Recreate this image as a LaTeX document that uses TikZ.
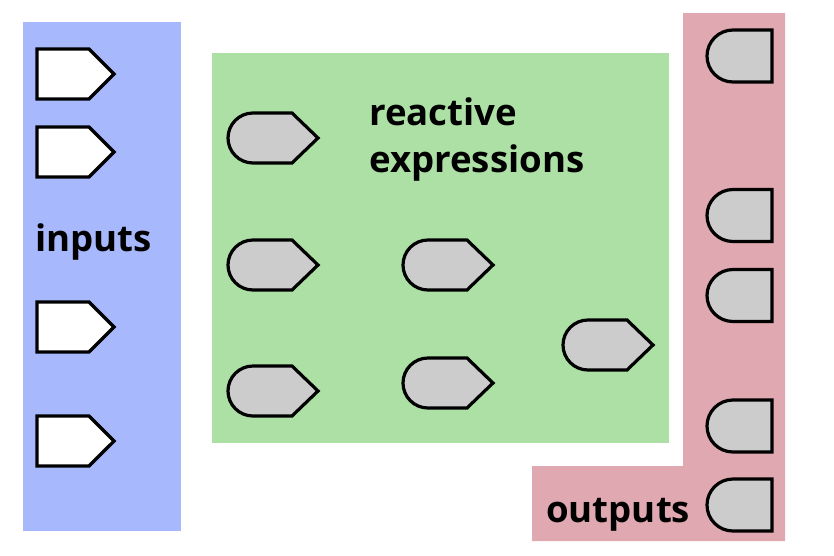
\documentclass[tikz,border=0pt]{standalone}
\usepackage{fontspec}
\setmainfont{Open Sans}
\usepackage{tikz}
\usetikzlibrary{positioning,shapes.symbols,shapes.misc}

\definecolor{inblue}{HTML}{A8B8FC}
\definecolor{reactgreen}{HTML}{ACE0A4}
\definecolor{outpink}{HTML}{E0A8B0}
\definecolor{tagfill}{HTML}{CCCCCC}

\tikzset{
  label text/.style={font=\fontsize{36.6}{47}\selectfont\bfseries, inner sep=0pt, align=left},
  inputtag/.style={signal, signal to=east, signal pointer angle=90, draw=black, line width=3.2pt, fill=white, minimum width=77pt, minimum height=50pt, inner sep=0pt, outer sep=0pt, anchor=west},
  outputtag/.style={rounded rectangle, rounded rectangle right arc=none, draw=black, line width=3.2pt, fill=tagfill, minimum width=65pt, minimum height=52pt, inner sep=0pt},
  reactag/.pic={
    \draw[line width=3.2pt, fill=tagfill, line join=miter] (25,25) -- (64,25) -- (90,0) -- (64,-25) -- (25,-25) arc (270:90:25) -- cycle;
  }
}

\begin{document}
\begin{tikzpicture}[x=1pt, y=1pt]
\useasboundingbox (0,0) rectangle (834,-555);

% areas
\fill[inblue] (23,-22) rectangle (181,-531);
\fill[reactgreen] (212,-53) rectangle (669,-443);
\fill[outpink] (683,-13) -- (785,-13) -- (785,-541) -- (532,-541) -- (532,-466) -- (683,-466) -- cycle;

% inputs
\node (in1) [inputtag] at (37,-74) {};
\node (in2) [inputtag] at (37,-152) {};
\node (in3) [inputtag] at (37,-327) {};
\node (in4) [inputtag] at (37,-441) {};
\node (inlabel) [label text, anchor=base west] at (35,-251) {inputs};

% reactive expressions
\pic (r1) at (228,-138) {reactag};
\pic (r2) at (228,-265) {reactag};
\pic (r3) at (228,-391) {reactag};
\pic (r4) at (403,-265) {reactag};
\pic (r5) at (403,-383) {reactag};
\pic (r6) at (563,-345) {reactag};
\node (reactlabel) [label text, anchor=base west] at (369,-172) {reactive\\expressions};

% outputs
\node (out1) [outputtag] at (739.5,-56) {};
\node (out2) [outputtag] at (739.5,-215.5) {};
\node (out3) [outputtag] at (739.5,-295.5) {};
\node (out4) [outputtag] at (739.5,-426) {};
\node (out5) [outputtag] at (739.5,-505) {};
\node (outlabel) [label text, anchor=base west] at (546,-522) {outputs};
\end{tikzpicture}
\end{document}
